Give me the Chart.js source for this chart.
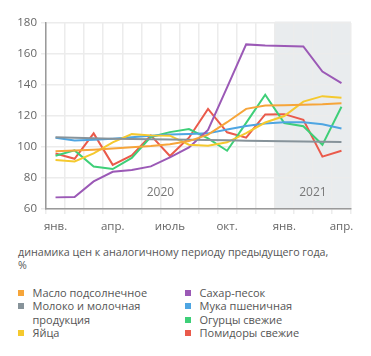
<!DOCTYPE html>
<html>
<head>
<meta charset="utf-8">
<script src="https://cdn.jsdelivr.net/npm/chart.js@4.4.1/dist/chart.umd.min.js"></script>
<style>
  html, body { margin:0; padding:0; background:#fff; }
  body { width:371px; height:356px; position:relative; overflow:hidden; font-family:"Open Sans", sans-serif; }
  #c { position:absolute; left:0; top:0; }
  #title { position:absolute; left:18px; top:246px; font-size:10.7px; line-height:13px; color:#555; white-space:nowrap; }
  #legend { position:absolute; left:18px; top:286px; display:flex; }
  .col { display:flex; flex-direction:column; }
  .col1 { width:167px; }
  .item { display:flex; align-items:flex-start; font-size:11px; line-height:13.3px; color:#555; }
  .sw { width:6px; height:6px; margin-top:4px; margin-right:8.5px; flex:none; }
  .txt { width:125px; }
</style>
</head>
<body>
<canvas id="c" width="371" height="240"></canvas>
<div id="title">динамика цен к аналогичному периоду предыдущего года,<br>%</div>
<div id="legend"></div>
<script>
const months = ["янв.","фев.","мар.","апр.","май","июнь","июль","авг.","сен.","окт.","нояб.","дек.","янв.","фев.","мар.","апр."];
const years = ["2020","2021"];
const seriesNames = ["Масло подсолнечное","Молоко и молочная продукция","Яйца","Сахар-песок","Мука пшеничная","Огурцы свежие","Помидоры свежие"];
const seriesColors = ["#f6a53a","#87939a","#f5c92e","#9b59b6","#4ea5e2","#3ecf78","#ea5a4b"];
const yTicks = [60,80,100,120,140,160,180];

const oil      = [97.2, 97.7, 98.3, 99.0, 99.8,100.6,101.8,103.8,108.0,116.0,124.6,126.8,127.0,127.3,127.6,128.2];
const milk     = [106.3,106.0,105.6,105.4,105.2,105.0,104.9,104.7,104.5,104.3,104.1,103.9,103.7,103.6,103.4,103.2];
const eggs     = [91.6, 90.7, 95.9,103.0,108.3,107.5,107.3,101.5,100.8,103.0,109.0,115.8,120.0,129.3,132.8,131.7];
const sugar    = [67.5, 67.8, 77.8, 84.0, 85.2, 87.5, 93.3, 99.7,111.0,138.5,166.2,165.5,165.2,164.9,148.7,141.2];
const flour    = [106.0,104.2,104.6,105.4,106.3,107.2,108.0,108.4,108.8,111.3,113.6,115.2,116.0,116.0,114.7,112.0];
const cucumber = [94.4, 97.8, 87.4, 85.8, 93.0,106.5,109.6,111.6,105.5, 97.6,115.6,133.7,115.5,113.4,101.4,126.0];
const tomato   = [95.8, 92.4,108.8, 88.5, 94.6,107.5, 94.2,106.0,124.6,109.5,106.0,121.0,121.2,117.5, 93.8, 97.6];

const seriesData = [oil, milk, eggs, sugar, flour, cucumber, tomato];

const legend = document.getElementById('legend');
const cols = [[0,1,2],[3,4,5,6]];
cols.forEach((idxs, ci) => {
  const col = document.createElement('div');
  col.className = 'col' + (ci === 0 ? ' col1' : '');
  idxs.forEach(i => {
    const it = document.createElement('div');
    it.className = 'item';
    const sw = document.createElement('span');
    sw.className = 'sw';
    sw.style.background = seriesColors[i];
    const tx = document.createElement('span');
    tx.className = 'txt';
    tx.textContent = seriesNames[i];
    it.appendChild(sw); it.appendChild(tx);
    col.appendChild(it);
  });
  legend.appendChild(col);
});

const shadePlugin = {
  id: 'shade',
  beforeDraw(chart) {
    const {ctx, chartArea, scales} = chart;
    const x = scales.x;
    const half = (x.getPixelForValue(1) - x.getPixelForValue(0)) / 2;
    const left = x.getPixelForValue(12) - half;
    ctx.save();
    ctx.fillStyle = '#e9ecee';
    ctx.fillRect(left, chartArea.top - 1.5, chartArea.right - left, chartArea.bottom - chartArea.top + 1.5);
    ctx.restore();
  },
  beforeDatasetsDraw(chart) {
    const {ctx, scales} = chart;
    const x = scales.x, y = scales.y;
    const half = (x.getPixelForValue(1) - x.getPixelForValue(0)) / 2;
    ctx.save();
    ctx.fillStyle = '#777';
    ctx.font = '12px "Open Sans", sans-serif';
    ctx.textAlign = 'center';
    ctx.textBaseline = 'middle';
    ctx.fillText(years[0], x.getPixelForValue(5) + half, y.getPixelForValue(70.5));
    ctx.fillText(years[1], x.getPixelForValue(13) + half, y.getPixelForValue(70.5));
    ctx.restore();
  }
};

new Chart(document.getElementById('c'), {
  type: 'line',
  data: {
    labels: months,
    datasets: seriesNames.map((n, i) => ({
      label: n,
      data: seriesData[i],
      borderColor: seriesColors[i],
      backgroundColor: seriesColors[i],
      borderWidth: 2,
      pointRadius: 0,
      tension: 0,
      fill: false
    }))
  },
  options: {
    responsive: false,
    animation: false,
    devicePixelRatio: 1,
    layout: { padding: { left: 0, right: 20, top: 23, bottom: 0 } },
    plugins: { legend: { display: false }, tooltip: { enabled: false } },
    scales: {
      x: {
        type: 'category',
        offset: true,
        grid: { offset: true, color: '#ececec', lineWidth: 1.5, tickLength: 5, drawTicks: true },
        border: { display: true, color: '#9a9a9a', width: 1.5 },
        ticks: {
          autoSkip: false, maxRotation: 0, minRotation: 0,
          color: '#666', padding: 6,
          font: { family: '"Open Sans", sans-serif', size: 11.5 },
          callback: function(v, i) { return i % 3 === 0 ? months[i] : ''; }
        },
        afterFit(s) { s.height = 31; }
      },
      y: {
        min: yTicks[0], max: yTicks[yTicks.length - 1],
        afterBuildTicks(s) { s.ticks = yTicks.map(v => ({ value: v })); },
        grid: { color: '#ececec', lineWidth: 1.5, tickLength: 5, drawTicks: true },
        border: { display: true, color: '#9a9a9a', width: 1.5 },
        ticks: { color: '#666', padding: 4, font: { family: '"Open Sans", sans-serif', size: 11.5 } },
        afterFit(s) { s.width = 46; }
      }
    }
  },
  plugins: [shadePlugin]
});
</script>
</body>
</html>
